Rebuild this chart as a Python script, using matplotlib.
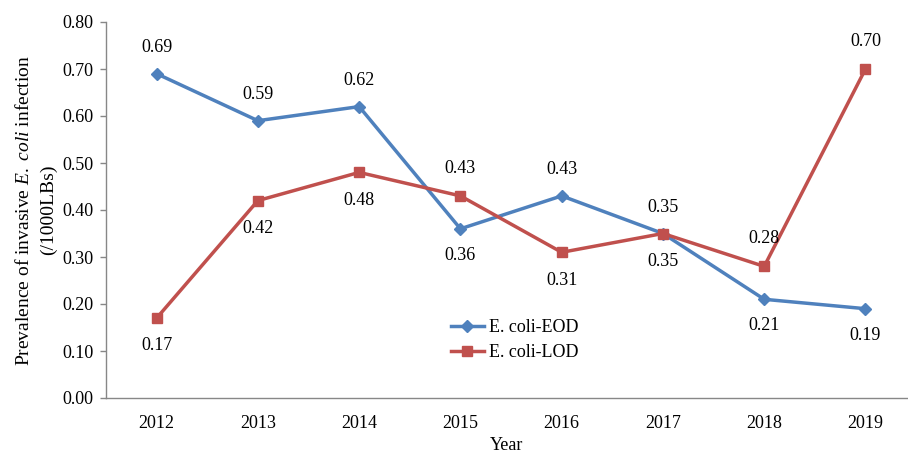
import matplotlib
matplotlib.use("Agg")
import matplotlib.pyplot as plt

# Data
years = ["2012", "2013", "2014", "2015", "2016", "2017", "2018", "2019"]
eod = [0.69, 0.59, 0.62, 0.36, 0.43, 0.35, 0.21, 0.19]
lod = [0.17, 0.42, 0.48, 0.43, 0.31, 0.35, 0.28, 0.70]
# label placement: 1 = above the point, -1 = below
eod_pos = [1, 1, 1, -1, 1, 1, -1, -1]
lod_pos = [-1, -1, -1, 1, -1, -1, 1, 1]

plt.rcParams['font.family'] = ['Liberation Serif', 'DejaVu Serif']
plt.rcParams['mathtext.fontset'] = 'custom'
plt.rcParams['mathtext.rm'] = 'Liberation Serif'
plt.rcParams['mathtext.it'] = 'Liberation Serif:italic'

blue = '#4F81BD'
red = '#C0504D'
fs = 13

fig = plt.figure(figsize=(9.08, 4.55), dpi=100)
ax = fig.add_axes([106/908, 1-398/455, 1-106/908, (398-22)/455])

x = list(range(len(years)))
ax.plot(x, eod, color=blue, linewidth=2.5, marker='D', markersize=6.5, label='E. coli-EOD')
ax.plot(x, lod, color=red, linewidth=2.5, marker='s', markersize=7.5, label='E. coli-LOD')

for i, v in enumerate(eod):
    ax.annotate(f"{v:.2f}", (i, v), xytext=(0, 19 * eod_pos[i]), textcoords='offset points',
                ha='center', va='center', fontsize=fs)
for i, v in enumerate(lod):
    ax.annotate(f"{v:.2f}", (i, v), xytext=(0, 20 * lod_pos[i]), textcoords='offset points',
                ha='center', va='center', fontsize=fs)

ax.set_xlim(-0.5, 7.42)
ax.set_ylim(0, 0.8)
ax.set_xticks(x)
ax.set_xticklabels(years)
ax.set_yticks([i / 10 for i in range(9)])
ax.set_yticklabels([f"{i / 10:.2f}" for i in range(9)])
ax.tick_params(axis='x', length=0, pad=12, labelsize=fs)
ax.tick_params(axis='y', length=4, width=1, color='#878787', pad=5, labelsize=fs)

for s in ['top', 'right']:
    ax.spines[s].set_visible(False)
for s in ['left', 'bottom']:
    ax.spines[s].set_color('#878787')
    ax.spines[s].set_linewidth(1)

ax.set_xlabel('Year', fontsize=fs, labelpad=4)
ax.set_ylabel('Prevalence of invasive $E.$ $coli$ infection\n(/1000LBs)', fontsize=14,
              labelpad=4, linespacing=1.45)

leg = ax.legend(loc='upper left', bbox_to_anchor=(444/908, 1-312/455),
                bbox_transform=fig.transFigure, frameon=False, fontsize=fs,
                handlelength=1.8, handletextpad=0.3, labelspacing=0.45, borderaxespad=0)

fig.savefig('out.png', dpi=100)
